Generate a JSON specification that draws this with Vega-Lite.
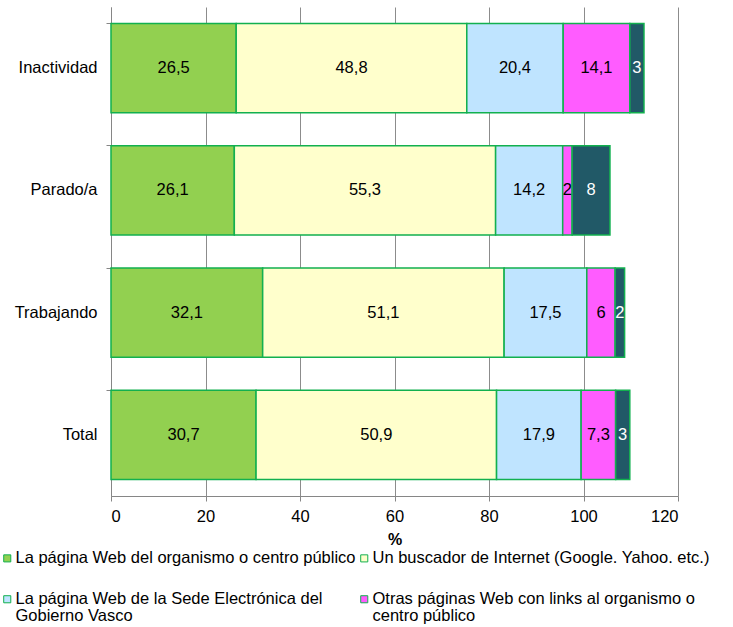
{
  "$schema": "https://vega.github.io/schema/vega-lite/v6.json",
  "width": 567,
  "height": 489,
  "autosize": "none",
  "padding": {"left": 111, "top": 7, "right": 55, "bottom": 131},
  "config": {
    "font": "Liberation Sans",
    "view": {"stroke": null},
    "locale": {"number": {"decimal": ",", "thousands": ".", "grouping": [3], "currency": ["", " €"]}}
  },
  "data": {
    "values": [
      {"cat": "Inactividad", "serie": "La página Web del organismo o centro público", "ord": 1, "value": 26.5},
      {"cat": "Inactividad", "serie": "Un buscador de Internet (Google. Yahoo. etc.)", "ord": 2, "value": 48.8},
      {"cat": "Inactividad", "serie": "La página Web de la Sede Electrónica del Gobierno Vasco", "ord": 3, "value": 20.4},
      {"cat": "Inactividad", "serie": "Otras páginas Web con links al organismo o centro público", "ord": 4, "value": 14.1},
      {"cat": "Inactividad", "serie": "Otros", "ord": 5, "value": 3},
      {"cat": "Parado/a", "serie": "La página Web del organismo o centro público", "ord": 1, "value": 26.1},
      {"cat": "Parado/a", "serie": "Un buscador de Internet (Google. Yahoo. etc.)", "ord": 2, "value": 55.3},
      {"cat": "Parado/a", "serie": "La página Web de la Sede Electrónica del Gobierno Vasco", "ord": 3, "value": 14.2},
      {"cat": "Parado/a", "serie": "Otras páginas Web con links al organismo o centro público", "ord": 4, "value": 2},
      {"cat": "Parado/a", "serie": "Otros", "ord": 5, "value": 8},
      {"cat": "Trabajando", "serie": "La página Web del organismo o centro público", "ord": 1, "value": 32.1},
      {"cat": "Trabajando", "serie": "Un buscador de Internet (Google. Yahoo. etc.)", "ord": 2, "value": 51.1},
      {"cat": "Trabajando", "serie": "La página Web de la Sede Electrónica del Gobierno Vasco", "ord": 3, "value": 17.5},
      {"cat": "Trabajando", "serie": "Otras páginas Web con links al organismo o centro público", "ord": 4, "value": 6},
      {"cat": "Trabajando", "serie": "Otros", "ord": 5, "value": 2},
      {"cat": "Total", "serie": "La página Web del organismo o centro público", "ord": 1, "value": 30.7},
      {"cat": "Total", "serie": "Un buscador de Internet (Google. Yahoo. etc.)", "ord": 2, "value": 50.9},
      {"cat": "Total", "serie": "La página Web de la Sede Electrónica del Gobierno Vasco", "ord": 3, "value": 17.9},
      {"cat": "Total", "serie": "Otras páginas Web con links al organismo o centro público", "ord": 4, "value": 7.3},
      {"cat": "Total", "serie": "Otros", "ord": 5, "value": 3}
    ]
  },
  "transform": [
    {"stack": "value", "groupby": ["cat"], "sort": [{"field": "ord", "order": "ascending"}], "as": ["x0", "x1"]},
    {"calculate": "(datum.x0 + datum.x1) / 2", "as": "xmid"}
  ],
  "encoding": {
    "y": {
      "field": "cat",
      "type": "nominal",
      "sort": ["Inactividad", "Parado/a", "Trabajando", "Total"],
      "scale": {"paddingInner": 0.27, "paddingOuter": 0.135},
      "axis": {
        "title": null,
        "bandPosition": 0,
        "domainColor": "#868686",
        "tickColor": "#868686",
        "tickSize": 5,
        "labelFontSize": 16.5,
        "labelColor": "#000000",
        "labelPadding": 9,
        "grid": false
      }
    }
  },
  "layer": [
    {
      "mark": {"type": "bar", "stroke": "#12B04F", "strokeWidth": 1.5},
      "encoding": {
        "x": {
          "field": "x0",
          "type": "quantitative",
          "scale": {"domain": [0, 120], "nice": false},
          "axis": {
            "title": "%",
            "titleFontSize": 16,
            "titleFontWeight": "bold",
            "titleColor": "#000000",
            "titlePadding": 7,
            "values": [0, 20, 40, 60, 80, 100, 120],
            "grid": true,
            "gridColor": "#8C8C8C",
            "domainColor": "#868686",
            "tickColor": "#868686",
            "tickSize": 5,
            "labelFontSize": 16.5,
            "labelColor": "#000000",
            "labelPadding": 7
          }
        },
        "x2": {"field": "x1"},
        "color": {
          "field": "serie",
          "type": "nominal",
          "scale": {
            "domain": [
              "La página Web del organismo o centro público",
              "Un buscador de Internet (Google. Yahoo. etc.)",
              "La página Web de la Sede Electrónica del Gobierno Vasco",
              "Otras páginas Web con links al organismo o centro público",
              "Otros"
            ],
            "range": ["#92D050", "#FFFFCC", "#BFE4FF", "#FF5CFF", "#215967"]
          },
          "legend": {
            "title": null,
            "orient": "none",
            "legendX": -112,
            "legendY": 543,
            "direction": "horizontal",
            "columns": 2,
            "columnPadding": 0,
            "rowPadding": 24,
            "values": [
              "La página Web del organismo o centro público",
              "Un buscador de Internet (Google. Yahoo. etc.)",
              "La página Web de la Sede Electrónica del Gobierno Vasco",
              "Otras páginas Web con links al organismo o centro público"
            ],
            "labelExpr": "datum.label == 'La página Web de la Sede Electrónica del Gobierno Vasco' ? ['La página Web de la Sede Electrónica del', 'Gobierno Vasco'] : datum.label == 'Otras páginas Web con links al organismo o centro público' ? ['Otras páginas Web con links al organismo o', 'centro público'] : datum.label",
            "labelFontSize": 16.5,
            "labelColor": "#000000",
            "labelLimit": 420,
            "labelOffset": 0,
            "labelBaseline": "top",
            "symbolType": "square",
            "symbolSize": 50,
            "symbolStrokeColor": "#12B04F",
            "symbolStrokeWidth": 1,
            "symbolOffset": 0,
            "encode": {
              "labels": {"update": {"dy": {"value": -8}, "lineHeight": {"value": 17}}}
            }
          }
        }
      }
    },
    {
      "mark": {"type": "text", "fontSize": 16.5},
      "encoding": {
        "x": {"field": "xmid", "type": "quantitative"},
        "text": {"field": "value", "type": "quantitative", "format": ".1~f"},
        "color": {
          "condition": {"test": "datum.serie == 'Otros'", "value": "#FFFFFF"},
          "value": "#000000"
        }
      }
    }
  ]
}
